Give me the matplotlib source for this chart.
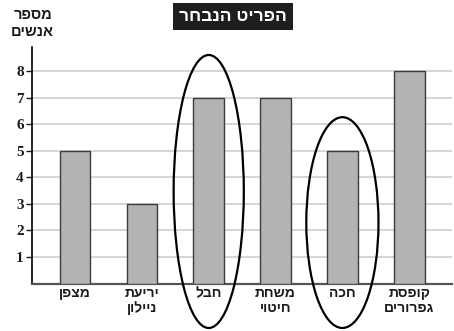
import matplotlib
matplotlib.use("Agg")
import matplotlib.pyplot as plt
from matplotlib.patches import Ellipse

# Items chosen and how many people chose each one
items = ["מצפן", "יריעת\nניילון", "חבל", "משחת\nחיטוי", "חכה", "קופסת\nגפרורים"]
people = [5, 3, 7, 7, 5, 8]
y_ticks = [1, 2, 3, 4, 5, 6, 7, 8]
title = "הפריט הנבחר"
y_title = "מספר\nאנשים"
circled = [2, 4]  # indices of the circled bars


def rtl(text):
    """Reverse each line so Hebrew reads right-to-left when drawn."""
    return "\n".join(line[::-1] for line in text.split("\n"))


HEB = ["Liberation Sans", "DejaVu Sans"]
NUM = ["Liberation Serif", "DejaVu Serif"]

fig = plt.figure(figsize=(4.54, 3.31), dpi=100)
ax = fig.add_axes([0.0705, 0.1432, 0.9251, 0.7148])

x = list(range(len(items)))
ax.bar(x, people, width=0.46, color="#b3b3b3", edgecolor="#3c3c3c",
       linewidth=1.0, zorder=3)

ax.set_xlim(-0.644, 5.64)
ax.set_ylim(0, 8.9)
ax.set_yticks(y_ticks)
ax.set_yticklabels([str(v) for v in y_ticks], fontfamily=NUM,
                   fontweight="bold", fontsize=11, color="#1a1a1a")
ax.set_xticks(x)
ax.set_xticklabels([rtl(s) for s in items], fontfamily=HEB,
                   fontweight="bold", fontsize=10, color="#1a1a1a",
                   linespacing=1.1, va="top")
ax.tick_params(axis="x", length=0, pad=2)
ax.tick_params(axis="y", length=4, width=1, pad=2, color="#1a1a1a")

ax.grid(axis="y", color="#d2d2d2", linewidth=1.3, zorder=0)
for side in ("top", "right"):
    ax.spines[side].set_visible(False)
ax.spines["left"].set_linewidth(1.2)
ax.spines["bottom"].set_linewidth(1.6)
ax.spines["bottom"].set_color("#555555")

# Ovals around the highlighted bars: from below the axis to above the bar
oval_bottom = -1.67
oval_widths = [1.05, 1.08]
oval_headroom = [1.6, 1.26]
for i, w, pad in zip(circled, oval_widths, oval_headroom):
    top = people[i] + pad
    ax.add_patch(Ellipse((i, (top + oval_bottom) / 2), w, top - oval_bottom,
                         fill=False, edgecolor="black", linewidth=1.6,
                         clip_on=False, zorder=4))

# Title in a dark box
fig.text(0.513, 0.951, rtl(title), ha="center", va="center",
         fontfamily=HEB, fontweight="bold", fontsize=12.5, color="white",
         bbox=dict(boxstyle="square,pad=0.35", facecolor="#1e1e1e",
                   edgecolor="none"))

# Axis caption above the y axis
fig.text(0.072, 0.930, rtl(y_title), ha="center", va="center",
         fontfamily=HEB, fontweight="bold", fontsize=10.5, color="#1a1a1a",
         linespacing=1.25)

fig.savefig("out.png", dpi=100)
